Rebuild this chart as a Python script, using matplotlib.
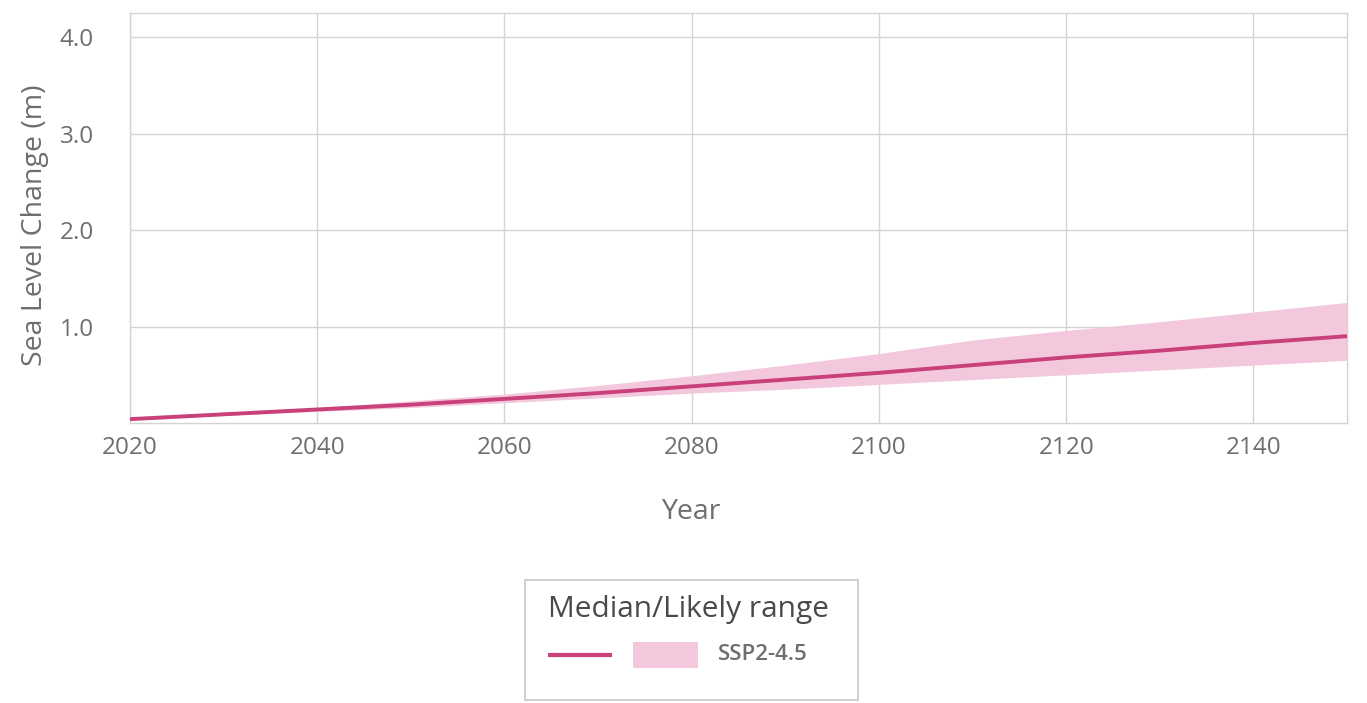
import matplotlib
matplotlib.use("Agg")
import matplotlib.pyplot as plt
from matplotlib.lines import Line2D
from matplotlib.patches import Rectangle

plt.rcParams['font.family'] = ['Open Sans', 'DejaVu Sans']

years = [2020, 2030, 2040, 2050, 2060, 2070, 2080, 2090, 2100, 2110, 2120, 2130, 2140, 2150]
median = [0.04, 0.09, 0.14, 0.19, 0.25, 0.31, 0.38, 0.45, 0.52, 0.60, 0.68, 0.75, 0.83, 0.90]
upper = [0.05, 0.10, 0.16, 0.23, 0.30, 0.39, 0.49, 0.60, 0.72, 0.86, 0.96, 1.05, 1.15, 1.25]
lower = [0.03, 0.08, 0.12, 0.16, 0.21, 0.26, 0.31, 0.35, 0.40, 0.45, 0.50, 0.55, 0.60, 0.65]
x_ticks = [2020, 2040, 2060, 2080, 2100, 2120, 2140]
y_ticks = [1.0, 2.0, 3.0, 4.0]
y_tick_labels = ["1.0", "2.0", "3.0", "4.0"]
scenario = "SSP2-4.5"
legend_title = "Median/Likely range"

line_color = "#c9407a"
band_color = "#f3c8dc"
text_color = "#6e6e6e"
title_color = "#4a4a4a"
grid_color = "#d4d4d4"

W, H = 1367, 703
fig = plt.figure(figsize=(W / 100, H / 100), dpi=100)
ax = fig.add_axes([130 / W, 1 - 423 / H, 1217 / W, 410 / H])

ax.fill_between(years, lower, upper, color=band_color, lw=0, zorder=2)
ax.plot(years, median, color=line_color, lw=2.8, zorder=3, solid_capstyle='butt')

ax.set_xlim(2020, 2150)
ax.set_ylim(0, 4.25)
ax.set_xticks(x_ticks)
ax.set_yticks(y_ticks)
ax.set_yticklabels(y_tick_labels)
ax.grid(True, color=grid_color, lw=1.0, zorder=1)
ax.tick_params(length=0, labelsize=17.5, colors=text_color)
ax.tick_params(axis='x', pad=9)
ax.tick_params(axis='y', pad=26)
for s in ax.spines.values():
    s.set_color(grid_color)
    s.set_linewidth(1.0)

ax.set_xlabel("Year", fontsize=20.5, color=text_color)
ax.xaxis.set_label_coords((691 - 130) / 1217, (423 - 512) / 410)
ax.xaxis.label.set_va('center')
ax.set_ylabel("Sea Level Change (m)", fontsize=20.5, color=text_color)
ax.yaxis.set_label_coords((35 - 130) / 1217, (423 - 225) / 410)
ax.yaxis.label.set_va('center')


def fx(px):
    return px / W


def fy(py):
    return 1 - py / H


# legend box drawn in figure pixels
fig.add_artist(Rectangle((fx(525), fy(700)), fx(333), 120 / H, transform=fig.transFigure,
                         facecolor='white', edgecolor="#cccccc", lw=1.3))
fig.text(fx(548), fy(610), legend_title, fontsize=21.5, color=title_color,
         ha='left', va='center')
fig.add_artist(Line2D([fx(548), fx(612)], [fy(655), fy(655)], transform=fig.transFigure,
                      color=line_color, lw=3, solid_capstyle='butt'))
fig.add_artist(Rectangle((fx(633), fy(668)), fx(65), 26 / H, transform=fig.transFigure,
                         facecolor=band_color, edgecolor='none'))
fig.text(fx(718), fy(655), scenario, fontsize=16, fontweight='semibold',
         color=text_color, ha='left', va='center')

fig.savefig("out.png", dpi=100)
